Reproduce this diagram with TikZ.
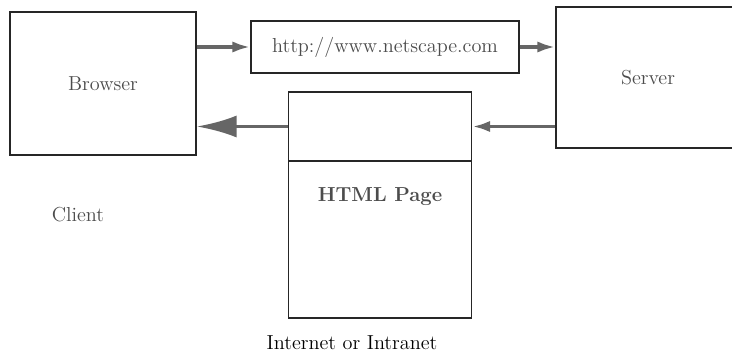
\documentclass[tikz,border=0pt]{standalone}
\usepackage{tikz}
\usetikzlibrary{arrows.meta,positioning}

\begin{document}
\begin{tikzpicture}[>=Latex,
  box/.style={draw=black!85,thick,fill=white,font=\Large,text=black!70},
  flow/.style={draw=black!60,line width=2.6pt,-{Latex[length=0.45cm,width=0.28cm]}},
  bigflow/.style={flow,-{Latex[length=1cm,width=0.55cm]}}]
  \useasboundingbox (0,0) rectangle (18.3,9);
  % Client side
  \node[box,minimum width=4.65cm,minimum height=3.575cm] (browser) at (2.575,6.9125) {Browser};
  \node[font=\Large,text=black!70] (client) at (1.95,3.625) {Client};
  % Request
  \node[box,minimum width=6.7cm,minimum height=1.3cm] (url) at (9.625,7.825) {http://www.netscape.com};
  % Server (runs off the right edge)
  \node[box,minimum width=4.6cm,minimum height=3.525cm] (server) at (16.2,7.0625) {Server};
  % Reply page, split in two
  \node[box,minimum width=4.575cm,minimum height=1.725cm] (htmltop) at (9.5,5.8375) {};
  \node[box,minimum width=4.575cm,minimum height=3.925cm,below=-0.8pt of htmltop,
        label={[anchor=north,yshift=-0.55cm,font=\Large\bfseries,text=black!70]north:HTML Page}] (htmlpage) {};
  \node[font=\Large] (net) at (8.8,0.425) {Internet or Intranet};
  % Arrows
  \draw[flow] (browser.east |- url.west) -- (url.west);
  \draw[flow] (url.east) -- (url.east -| server.west);
  \draw[flow] (server.west |- htmltop.east) -- (htmltop.east);
  \draw[bigflow] (htmltop.west) -- (htmltop.west -| browser.east);
\end{tikzpicture}
\end{document}
